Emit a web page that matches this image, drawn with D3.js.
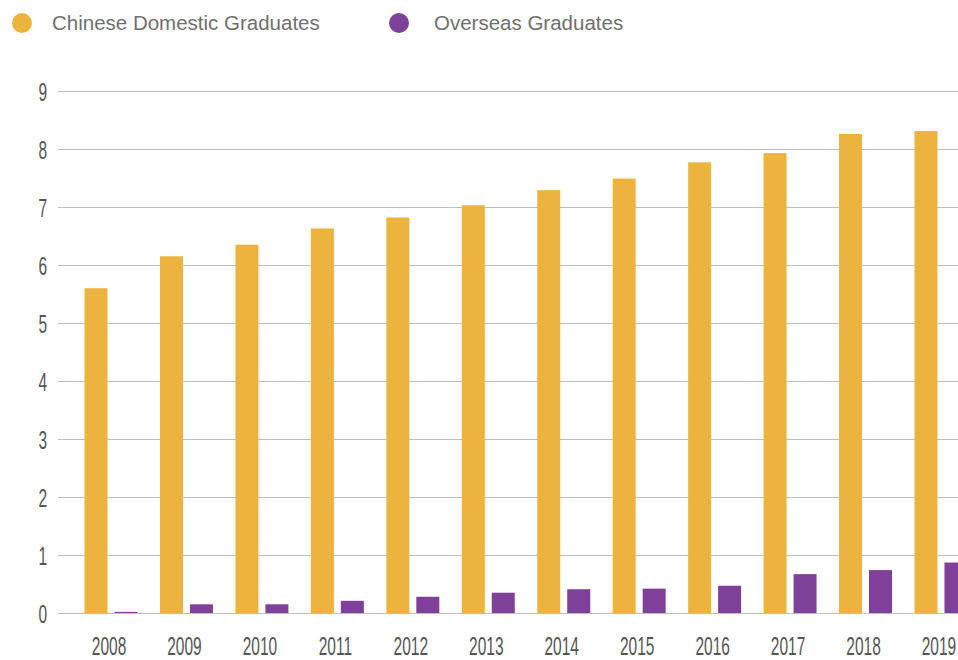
<!DOCTYPE html>
<html>
<head>
<meta charset="utf-8">
<script src="https://cdn.jsdelivr.net/npm/d3@7"></script>
<style>
  html, body { margin: 0; padding: 0; background: #fff; }
  svg { display: block; }
</style>
</head>
<body>
<svg id="chart" width="958" height="660"></svg>
<script>
// Graduates per year (millions)
const years = ["2008", "2009", "2010", "2011", "2012", "2013", "2014", "2015", "2016", "2017", "2018", "2019"];
const domestic = [5.6, 6.15, 6.35, 6.63, 6.82, 7.03, 7.29, 7.49, 7.77, 7.93, 8.26, 8.31];
const overseas = [0.02, 0.15, 0.15, 0.21, 0.28, 0.35, 0.41, 0.42, 0.47, 0.67, 0.74, 0.87];
const seriesNames = ["Chinese Domestic Graduates", "Overseas Graduates"];
const seriesColors = ["#ECB43F", "#7E4099"];
const yTicks = [0, 1, 2, 3, 4, 5, 6, 7, 8, 9];

const rows = years.map((y, i) => ({ year: y, values: [domestic[i], overseas[i]] }));

const svg = d3.select("#chart");
const W = 958, H = 660;

const x0 = d3.scaleBand()
  .domain(years)
  .range([73.3, 978.7])
  .paddingInner(0.298)
  .paddingOuter(0.149);

const x1 = d3.scaleBand()
  .domain(seriesNames)
  .range([0, x0.bandwidth()])
  .paddingInner(0.233);

const y = d3.scaleLinear().domain([0, 9]).range([613, 91]);

const gridLeft = 58;

// Horizontal gridlines and value labels
const yAxis = svg.append("g")
  .attr("transform", `translate(${gridLeft},0)`)
  .call(d3.axisLeft(y).tickValues(yTicks).tickSize(-(W - gridLeft)).tickFormat(d3.format("d")));
yAxis.select(".domain").remove();
yAxis.selectAll(".tick line").attr("stroke", "#bdbdbd").attr("stroke-width", 1);
yAxis.selectAll(".tick text")
  .attr("x", 0)
  .attr("dy", "0.36em")
  .attr("fill", "#555")
  .style("font-family", "'Liberation Sans', Arial, sans-serif")
  .style("font-size", "25px")
  .attr("text-anchor", "end")
  .attr("transform", "translate(-11,0) scale(0.62,1)");

// Bars
const groups = svg.append("g").selectAll("g")
  .data(rows)
  .join("g")
  .attr("transform", d => `translate(${x0(d.year)},0)`);

groups.selectAll("rect")
  .data(d => d.values.map((v, i) => ({ key: seriesNames[i], value: v, color: seriesColors[i] })))
  .join("rect")
  .attr("x", d => x1(d.key))
  .attr("width", x1.bandwidth())
  .attr("y", d => y(d.value))
  .attr("height", d => y(0) - y(d.value))
  .attr("fill", d => d.color);

// Year labels
const xAxis = svg.append("g")
  .attr("transform", `translate(0,${y(0)})`)
  .call(d3.axisBottom(x0).tickSize(0).tickPadding(0));
xAxis.select(".domain").remove();
xAxis.selectAll(".tick text")
  .attr("y", 0)
  .attr("dy", 0)
  .attr("fill", "#555")
  .style("font-family", "'Liberation Sans', Arial, sans-serif")
  .style("font-size", "25px")
  .attr("transform", "translate(-2,42) scale(0.62,1)");

// Legend
const legendItems = [
  { name: seriesNames[0], color: seriesColors[0], cx: 22, tx: 52 },
  { name: seriesNames[1], color: seriesColors[1], cx: 399, tx: 434 }
];
const legend = svg.append("g");
legend.selectAll("circle")
  .data(legendItems)
  .join("circle")
  .attr("cx", d => d.cx)
  .attr("cy", 23)
  .attr("r", 10)
  .attr("fill", d => d.color);
legend.selectAll("text")
  .data(legendItems)
  .join("text")
  .attr("x", d => d.tx)
  .attr("y", 23)
  .attr("dy", "0.35em")
  .attr("fill", "#6f6f6f")
  .style("font-family", "'Liberation Sans', Arial, sans-serif")
  .style("font-size", "20.5px")
  .text(d => d.name);
</script>
</body>
</html>
